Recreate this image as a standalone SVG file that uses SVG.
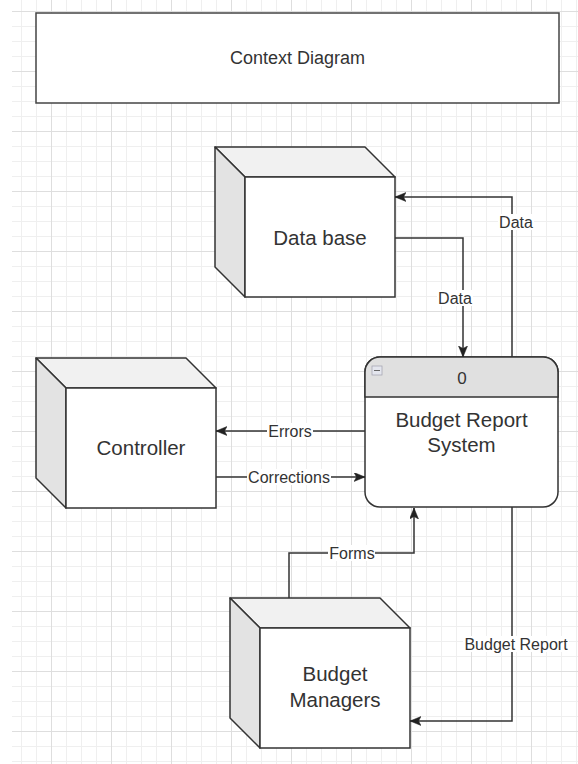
<svg xmlns="http://www.w3.org/2000/svg" width="578" height="764" viewBox="0 0 578 764">
<style>
.box{fill:#ffffff;stroke:#444444;stroke-width:1.5}
.top{fill:#f1f1f1;stroke:#333333;stroke-width:1.5;stroke-linejoin:round}
.side{fill:#e3e3e3;stroke:#333333;stroke-width:1.5;stroke-linejoin:round}
.front{fill:#ffffff;stroke:#333333;stroke-width:1.5}
.node{font-family:"Liberation Sans",Arial,sans-serif;font-size:20.5px;fill:#333333;text-anchor:middle}
.title{font-family:"Liberation Sans",Arial,sans-serif;font-size:18px;fill:#333333;text-anchor:middle}
.lbl{font-family:"Liberation Sans",Arial,sans-serif;font-size:16px;fill:#333333;text-anchor:middle}
.conn{fill:none;stroke:#333333;stroke-width:1.5}
.bg{fill:#ffffff}
</style>
<defs>
<pattern id="grid" patternUnits="userSpaceOnUse" x="51" y="71" width="60" height="60">
<rect x="15" y="0" width="1" height="60" fill="#efefef"/>
<rect x="30" y="0" width="1" height="60" fill="#efefef"/>
<rect x="45" y="0" width="1" height="60" fill="#efefef"/>
<rect x="0" y="15" width="60" height="1" fill="#efefef"/>
<rect x="0" y="30" width="60" height="1" fill="#efefef"/>
<rect x="0" y="45" width="60" height="1" fill="#efefef"/>
<rect x="0" y="0" width="1" height="60" fill="#dedede"/>
<rect x="0" y="0" width="60" height="1" fill="#dedede"/>
</pattern>
<marker id="arr" markerUnits="userSpaceOnUse" markerWidth="12" markerHeight="10" refX="11" refY="4.5" orient="auto">
<path d="M0,0 L11,4.5 L0,9 L2.5,4.5 Z" fill="#222222" stroke="#222222" stroke-width="0.5"/>
</marker>
</defs>
<rect x="0" y="0" width="578" height="764" fill="#ffffff"/>
<rect x="12" y="0" width="566" height="764" fill="url(#grid)"/>

<g id="title">
<rect class="box" x="36" y="13" width="523" height="90"/>
<text class="title" x="297.5" y="64">Context Diagram</text>
</g>

<g id="database">
<polygon class="top" points="215,147 365,147 395,177 245,177"/>
<polygon class="side" points="215,147 245,177 245,297 215,267"/>
<rect class="front" x="245" y="177" width="150" height="120"/>
<text class="node" x="320" y="245">Data base</text>
</g>

<g id="controller">
<polygon class="top" points="36,358 186,358 216,388 66,388"/>
<polygon class="side" points="36,358 66,388 66,508 36,478"/>
<rect class="front" x="66" y="388" width="150" height="120"/>
<text class="node" x="141" y="455">Controller</text>
</g>

<g id="budget-managers">
<polygon class="top" points="230,598 380,598 410,628 260,628"/>
<polygon class="side" points="230,598 260,628 260,748 230,718"/>
<rect class="front" x="260" y="628" width="150" height="120"/>
<text class="node" x="335" y="681">Budget</text>
<text class="node" x="335" y="707">Managers</text>
</g>

<g id="budget-report-system">
<rect class="front" x="365" y="357" width="193" height="150" rx="15" ry="15"/>
<path d="M365,397 V372 A15,15 0 0 1 380,357 H543 A15,15 0 0 1 558,372 V397 Z" fill="#e0e0e0" stroke="#333333" stroke-width="1.5"/>
<rect x="372" y="366" width="10" height="9" fill="#e4e6ee" stroke="#a8a8b4" stroke-width="0.8"/>
<line x1="374" y1="370.5" x2="380" y2="370.5" stroke="#666666" stroke-width="1"/>
<text class="lbl" x="462" y="384" style="font-size:17px">0</text>
<text class="node" x="461.5" y="427">Budget Report</text>
<text class="node" x="461.5" y="452">System</text>
</g>

<g id="connectors">
<path class="conn" d="M512,357 V197 H395" marker-end="url(#arr)"/>
<path class="conn" d="M395,238 H463 V357" marker-end="url(#arr)"/>
<path class="conn" d="M365,431 H216" marker-end="url(#arr)"/>
<path class="conn" d="M216,477 H365" marker-end="url(#arr)"/>
<path class="conn" d="M289,598 V553 H414 V508" marker-end="url(#arr)"/>
<path class="conn" d="M512,507 V721 H410" marker-end="url(#arr)"/>

<rect class="bg" x="498" y="214" width="36" height="16"/>
<text class="lbl" x="516" y="228">Data</text>
<rect class="bg" x="437" y="290" width="36" height="16"/>
<text class="lbl" x="455" y="304">Data</text>
<rect class="bg" x="267" y="423" width="46" height="16"/>
<text class="lbl" x="290" y="437">Errors</text>
<rect class="bg" x="247" y="469" width="84" height="16"/>
<text class="lbl" x="289" y="483">Corrections</text>
<rect class="bg" x="328" y="545" width="47" height="16"/>
<text class="lbl" x="352" y="559">Forms</text>
<rect class="bg" x="463" y="636" width="106" height="16"/>
<text class="lbl" x="516" y="650">Budget Report</text>
</g>
</svg>
